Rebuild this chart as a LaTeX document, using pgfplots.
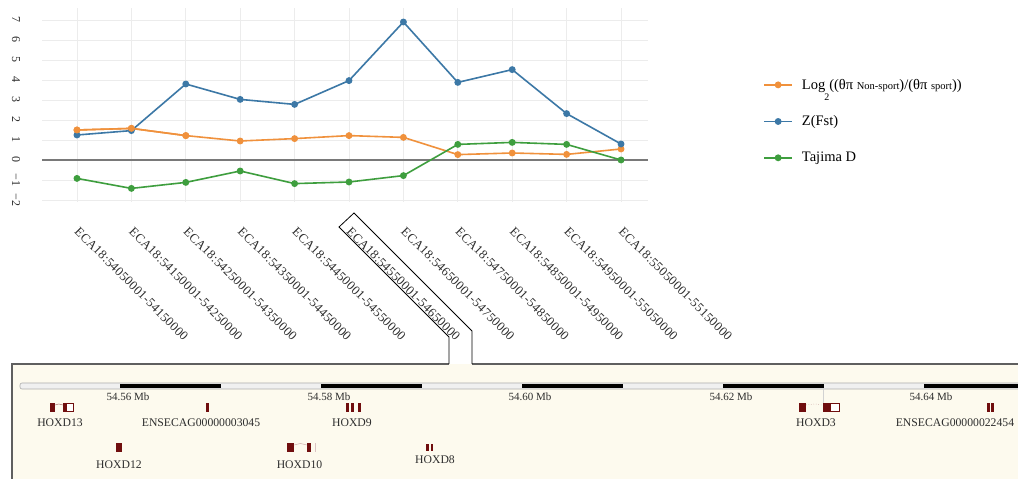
\documentclass[border=0pt]{standalone}
\usepackage{pgfplots}
\pgfplotsset{compat=1.18}
\usepackage{fontspec}
\setmainfont{Liberation Serif}
\newfontfamily\lsp[LetterSpace=2]{Liberation Serif}
\definecolor{cOr}{RGB}{240,145,60}
\definecolor{cBl}{RGB}{60,120,166}
\definecolor{cGr}{RGB}{62,158,62}
\definecolor{cGrid}{RGB}{236,236,236}
\definecolor{cPanel}{RGB}{253,250,238}
\definecolor{cGene}{RGB}{112,14,14}
\definecolor{cBorder}{RGB}{95,95,95}
\definecolor{cTxt}{RGB}{45,45,45}
\begin{document}
\begin{tikzpicture}
\clip (0,0) rectangle (1018pt,479pt);
\fill[white] (0,0) rectangle (1018pt,479pt);
% lower panel background and borders
\fill[cPanel] (12pt,-5pt) rectangle (1025pt,115pt);
\draw[cBorder, line width=1.2pt] (12pt,-5pt) -- (12pt,115pt) -- (449pt,115pt);
\draw[cBorder, line width=1.2pt] (472pt,115pt) -- (1025pt,115pt);
\draw[black, line width=0.8pt] (449pt,115pt) -- (449pt,142pt) -- (339pt,252pt) -- (354pt,266pt) -- (472pt,148pt) -- (472pt,115pt);

\begin{axis}[
  at={(42pt,277pt)}, anchor=south west,
  scale only axis, width=606pt, height=194pt,
  xmin=-0.643, xmax=10.496, ymin=-2.1, ymax=7.6,
  axis line style={draw=none},
  major tick length=0pt,
  xtick={0,...,10},
  xticklabels={ECA18:54050001-54150000,ECA18:54150001-54250000,ECA18:54250001-54350000,ECA18:54350001-54450000,ECA18:54450001-54550000,ECA18:54550001-54650000,ECA18:54650001-54750000,ECA18:54750001-54850000,ECA18:54850001-54950000,ECA18:54950001-55050000,ECA18:55050001-55150000},
  xticklabel style={font=\fontsize{12.8}{12.8}\lsp, text=cTxt, xshift=3pt, yshift=-24pt, rotate=-45, anchor=north west, inner sep=0pt},
  ytick={-2,...,7},
  yticklabels={−2,−1,0,1,2,3,4,5,6,7},
  yticklabel style={font=\fontsize{12}{12}\selectfont, text=cTxt, xshift=-26pt, rotate=-90, anchor=center, inner sep=0pt},
  grid=major, major grid style={cGrid, line width=0.8pt},
  extra y ticks={0}, extra y tick labels={},
  extra y tick style={grid=major, major grid style={draw=gray!95!black, line width=1.1pt}},
  legend style={at={(axis description cs:1.19,0.645)}, anchor=north west, draw=none, fill=none,
    font=\fontsize{14.5}{14.5}\selectfont, cells={anchor=west}, row sep=21pt, inner sep=0pt,
    nodes={inner xsep=9pt}},
  legend image code/.code={\draw[mark repeat=2, mark phase=2] plot coordinates {(0pt,0pt) (14pt,0pt) (28pt,0pt)};},
  every axis plot/.append style={line width=1.6pt, mark=*, mark size=2.6pt},
  clip=false,
]
\addplot[cOr, mark options={fill=cOr, draw=cOr}] coordinates {(0,1.50) (1,1.58) (2,1.22) (3,0.95) (4,1.07) (5,1.22) (6,1.13) (7,0.27) (8,0.35) (9,0.28) (10,0.55)};
\addlegendentry{Log\kern-1pt\raisebox{-11pt}[0pt][0pt]{\fontsize{10}{10}\selectfont 2}((θπ {\fontsize{10.5}{10.5}\selectfont Non-sport})/(θπ {\fontsize{10.5}{10.5}\selectfont sport}))}
\addplot[cBl, mark options={fill=cBl, draw=cBl}] coordinates {(0,1.25) (1,1.47) (2,3.80) (3,3.03) (4,2.78) (5,3.97) (6,6.90) (7,3.88) (8,4.52) (9,2.32) (10,0.80)};
\addlegendentry{Z(Fst)}
\addplot[cGr, mark options={fill=cGr, draw=cGr}] coordinates {(0,-0.92) (1,-1.42) (2,-1.12) (3,-0.55) (4,-1.18) (5,-1.10) (6,-0.78) (7,0.78) (8,0.88) (9,0.78) (10,0.00)};
\addlegendentry{Tajima D}
\addplot[cOr, mark options={fill=cOr, draw=cOr}, forget plot] coordinates {(0,1.50) (1,1.58) (2,1.22)};
\end{axis}

% gene track, x in kb above 54.50 Mb, y in pixels below the panel top
\begin{axis}[
  at={(12pt,0pt)}, anchor=south west,
  scale only axis, width=1006pt, height=115pt,
  xmin=49.254, xmax=149.35, ymin=0, ymax=115, y dir=reverse,
  hide axis, clip=false,
]
% scale bar
\draw[gray!65, fill=gray!12, rounded corners=2pt, line width=0.6pt] (50.05,19) rectangle (155,25);
\fill[black] (60,20.2) rectangle (70,23.8);
\fill[black] (80,20.2) rectangle (90,23.8);
\fill[black] (100,20.2) rectangle (110,23.8);
\fill[black] (120,20.2) rectangle (130,23.8);
\fill[black] (140,20.2) rectangle (150,23.8);
\begin{scope}[every node/.style={font=\fontsize{11}{11}\selectfont, text=cTxt}]
\node at (60.8,33) {54.56 Mb};
\node at (80.8,33) {54.58 Mb};
\node at (100.8,33) {54.60 Mb};
\node at (120.8,33) {54.62 Mb};
\node at (140.7,33) {54.64 Mb};
\end{scope}
\draw[gray!35, line width=0.5pt] (129.95,24) -- (129.95,39);
% genes, top row
\fill[cGene] (53.035,39) rectangle (53.532,48);
\draw[cGene!60, line width=0.5pt] (53.532,41) -- (53.9,40) -- (54.33,41);
\fill[cGene] (54.33,39) rectangle (54.63,48);
\draw[cGene, line width=0.7pt, fill=white] (54.63,39.3) rectangle (55.32,47.7);
\fill[cGene] (68.56,39) rectangle (68.86,48);
\fill[cGene] (82.49,39) rectangle (82.79,48);
\fill[cGene] (83.03,39) rectangle (83.33,48);
\fill[cGene] (83.68,39) rectangle (83.98,48);
\fill[cGene] (127.56,39) rectangle (128.26,48);
\draw[cGene!45, line width=0.5pt, dotted] (128.26,41) -- (129.1,40) -- (129.95,41);
\fill[cGene] (129.95,39) rectangle (130.65,48);
\draw[cGene, line width=0.7pt, fill=white] (130.65,39.3) rectangle (131.54,47.7);
\fill[cGene] (146.27,39) rectangle (146.57,48);
\fill[cGene] (146.67,39) rectangle (146.92,48);
% genes, bottom row
\fill[cGene] (59.6,79) rectangle (60.2,88);
\fill[cGene] (76.62,79) rectangle (77.31,88);
\draw[cGene!35, line width=0.5pt] (77.31,81) -- (77.95,79.5) -- (78.61,81);
\fill[cGene] (78.61,79) rectangle (79.0,88);
\fill[cGene!25] (79.40,79) rectangle (79.52,88);
\fill[cGene] (90.45,80) rectangle (90.72,87);
\fill[cGene] (90.90,80) rectangle (91.16,87);
% gene names
\begin{scope}[every node/.style={font=\fontsize{11.7}{11.7}\selectfont, text=cTxt}]
\node at (54.03,59) {HOXD13};
\node at (68.06,59) {ENSECAG00000003045};
\node at (83.08,59) {HOXD9};
\node at (129.25,59) {HOXD3};
\node at (143.08,59) {ENSECAG00000022454};
\node at (59.9,101) {HOXD12};
\node at (77.86,101) {HOXD10};
\node at (91.34,96) {HOXD8};
\end{scope}
\end{axis}
\end{tikzpicture}
\end{document}
